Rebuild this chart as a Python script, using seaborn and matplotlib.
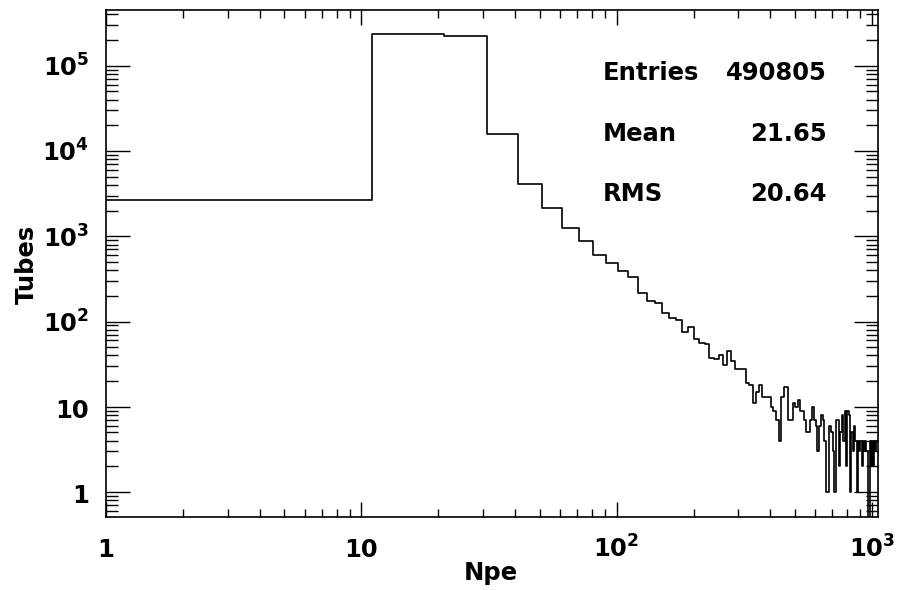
import numpy as np
import pandas as pd
import matplotlib
matplotlib.use("Agg")
import matplotlib.pyplot as plt
import matplotlib.transforms as mtransforms
from matplotlib.ticker import LogLocator, FixedLocator, NullFormatter
import seaborn as sns

# ---------------- data ----------------
bin_width = 10
first_edge = 1
counts = [
    2670, 236000, 223870, 16000, 4120, 2140, 1265, 890, 610, 490,
    395, 335, 215, 176, 164, 127, 109, 104, 76, 86,
    62, 56, 55, 37, 36, 41, 31, 45, 34, 28,
    28, 28, 19, 18, 11, 15, 18, 13, 13, 13,
    10, 9, 7, 4, 13, 17, 17, 7, 7, 11,
    10, 12, 9, 9, 7, 5, 5, 7, 10, 7,
    6, 3, 6, 8, 7, 4, 1, 1, 6, 5,
    3, 1, 7, 7, 2, 5, 8, 4, 9, 2,
    9, 8, 1, 5, 3, 6, 4, 1, 4, 3,
    4, 2, 4, 3, 4, 3, 0, 0, 4, 2,
    4, 2, 4, 3, 4,
]
x_ticks = [1, 10, 100, 1000]
x_ticklabels = ["1", "10", r"$10^{2}$", r"$10^{3}$"]
y_ticks = [1, 10, 100, 1000, 10000, 100000]
y_ticklabels = ["1", "10", r"$10^{2}$", r"$10^{3}$", r"$10^{4}$", r"$10^{5}$"]
stats_names = ["Entries", "Mean", "RMS"]
stats_values = ["490805", "21.65", "20.64"]
x_title = "Npe"
y_title = "Tubes"

edges = first_edge + bin_width * np.arange(len(counts) + 1)
centers = edges[:-1] + bin_width / 2
df = pd.DataFrame({"npe": centers, "tubes": counts})

# ---------------- style ----------------
sns.set_style("ticks")
plt.rcParams["font.family"] = ["DejaVu Sans"]
plt.rcParams["font.weight"] = "bold"
plt.rcParams["mathtext.fontset"] = "custom"
plt.rcParams["mathtext.rm"] = "DejaVu Sans:bold"
plt.rcParams["mathtext.it"] = "DejaVu Sans:bold"
plt.rcParams["mathtext.bf"] = "DejaVu Sans:bold"
plt.rcParams["mathtext.sf"] = "DejaVu Sans:bold"
plt.rcParams["axes.linewidth"] = 1.2
plt.rcParams["text.color"] = "black"
plt.rcParams["xtick.color"] = "black"
plt.rcParams["ytick.color"] = "black"
plt.rcParams["xtick.labelcolor"] = "black"
plt.rcParams["ytick.labelcolor"] = "black"

FS = 17.5

fig = plt.figure(figsize=(9.1, 5.9), dpi=100)
W, H = 910, 590
L, R, T, B = 106, 877.5, 10, 517
ax = fig.add_axes([L / W, 1 - B / H, (R - L) / W, (B - T) / H])

sns.histplot(data=df, x="npe", weights="tubes",
             binwidth=bin_width, binrange=(float(edges[0]), float(edges[-1])),
             element="step", fill=False, color="black", linewidth=1.2, ax=ax)

ax.set_xscale("log")
ax.set_yscale("log")
ax.set_xlim(edges[0], edges[-1])
ax.set_ylim(0.51, 4.5e5)

ax.xaxis.set_major_locator(FixedLocator(x_ticks))
ax.yaxis.set_major_locator(FixedLocator(y_ticks))
ax.xaxis.set_minor_locator(LogLocator(base=10, subs=np.arange(2, 10), numticks=20))
ax.yaxis.set_minor_locator(LogLocator(base=10, subs=np.arange(2, 10), numticks=20))
ax.xaxis.set_minor_formatter(NullFormatter())
ax.yaxis.set_minor_formatter(NullFormatter())
ax.set_xticklabels(x_ticklabels, fontsize=FS, fontweight="bold")
ax.set_yticklabels(y_ticklabels, fontsize=FS, fontweight="bold")

ax.tick_params(which="both", direction="in", top=True, right=True, color="black", width=1)
ax.tick_params(axis="x", which="major", length=11, pad=29)
ax.tick_params(axis="x", which="minor", length=6)
ax.tick_params(axis="y", which="major", length=17, pad=12)
ax.tick_params(axis="y", which="minor", length=8.5)

for lab in ax.get_xticklabels():
    lab.set_verticalalignment("baseline")
off = mtransforms.ScaledTranslation(0, -11 / 100, fig.dpi_scale_trans)
for lab in ax.get_yticklabels():
    lab.set_verticalalignment("baseline")
    lab.set_transform(lab.get_transform() + off)

for s in ax.spines.values():
    s.set_color("black")
    s.set_linewidth(1.2)

ax.set_xlabel("")
ax.set_ylabel("")
fig.text(491 / W, 1 - 580 / H, x_title, ha="center", va="baseline", fontsize=FS, fontweight="bold")
fig.text(27 / W, 1 - 264 / H, y_title, ha="center", va="center", rotation=90, fontsize=FS, fontweight="bold")

baselines = [79.5, 141, 201]
for name, val, yy in zip(stats_names, stats_values, baselines):
    fig.text(603 / W, 1 - yy / H, name, ha="left", va="baseline", fontsize=FS, fontweight="bold")
    fig.text(827 / W, 1 - yy / H, val, ha="right", va="baseline", fontsize=FS, fontweight="bold")

fig.savefig("out.png", dpi=100)
